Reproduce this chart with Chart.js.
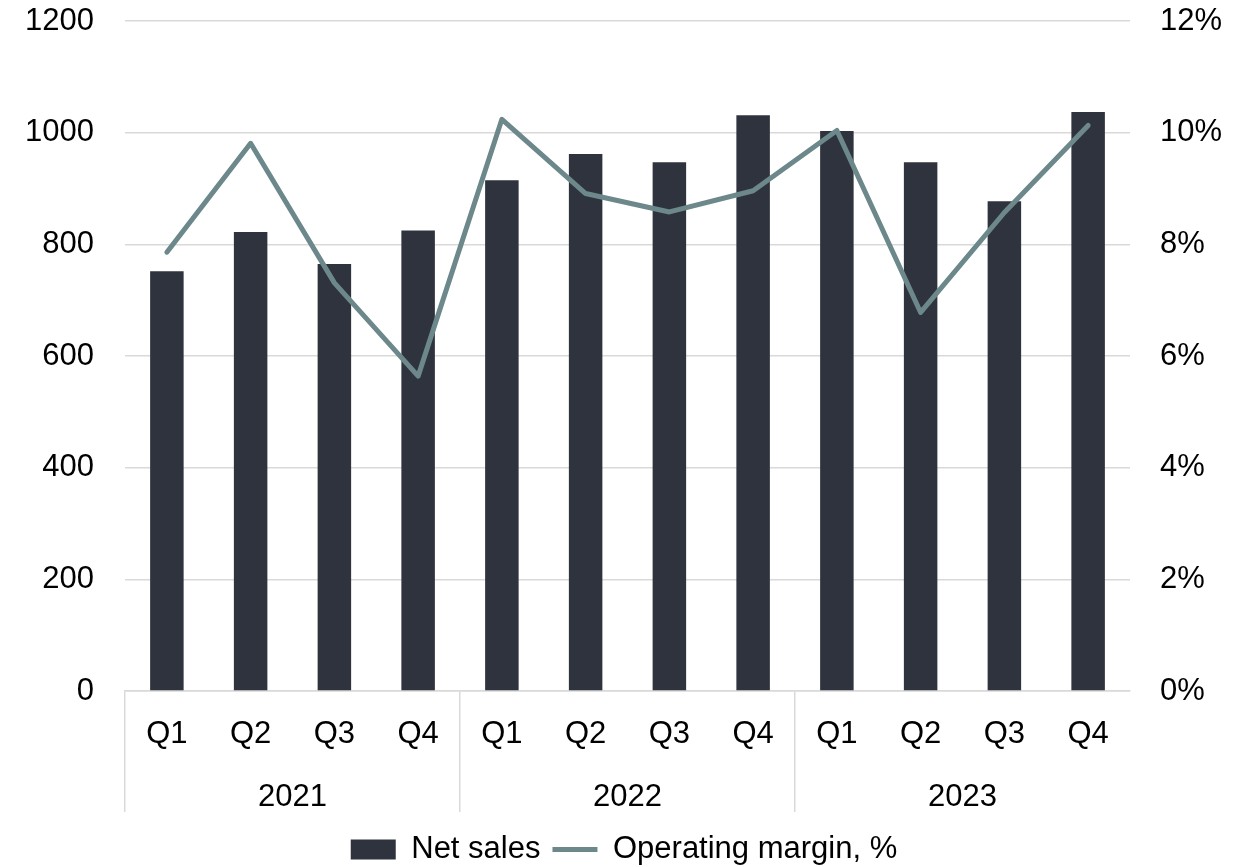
<!DOCTYPE html>
<html lang="en">
<head>
  <meta charset="UTF-8">
  <title>Net sales and operating margin</title>
  <script src="https://cdn.jsdelivr.net/npm/chart.js"></script>
  <style>
    html, body {
      margin: 0;
      padding: 0;
      background: #ffffff;
    }
    #wrap {
      width: 1248px;
      height: 867px;
    }
  </style>
</head>
<body>
  <div id="wrap"><canvas id="chart"></canvas></div>

<script>
const quarters = ['Q1', 'Q2', 'Q3', 'Q4', 'Q1', 'Q2', 'Q3', 'Q4', 'Q1', 'Q2', 'Q3', 'Q4'];
const years = ['2021', '2022', '2023'];
const netSales = [752, 822, 765, 825, 915, 962, 947, 1031, 1003, 947, 877, 1037];
const operatingMargin = [7.86, 9.81, 7.31, 5.64, 10.24, 8.91, 8.58, 8.96, 10.04, 6.78, 8.57, 10.13];
const salesTicks = [0, 200, 400, 600, 800, 1000, 1200];
const marginTicks = [0, 2, 4, 6, 8, 10, 12];

const barColor = '#2f333d';
const lineColor = '#6c888b';
const gridColor = '#d9d9d9';
const font = { family: '"Liberation Sans", Arial, sans-serif', size: 31, lineHeight: 1.0 };

Chart.defaults.color = '#000000';
Chart.defaults.font.family = font.family;
Chart.defaults.font.size = font.size;

// y axes add tick padding above the top label; drop it so the plot starts at 1200
function noVertPad(s) {
  s.paddingTop = 0;
  s.paddingBottom = 0;
}

const ctx = document.getElementById('chart').getContext('2d');
new Chart(ctx, {
  data: {
    labels: quarters,
    datasets: [
      {
        type: 'bar',
        label: 'Net sales',
        data: netSales,
        backgroundColor: barColor,
        yAxisID: 'y',
        xAxisID: 'x',
        categoryPercentage: 1,
        barPercentage: 0.4,
        pointStyle: 'rect',
        order: 2
      },
      {
        type: 'line',
        label: 'Operating margin, %',
        data: operatingMargin,
        borderColor: lineColor,
        backgroundColor: lineColor,
        borderWidth: 5,
        pointRadius: 0,
        tension: 0,
        borderCapStyle: 'round',
        borderJoinStyle: 'round',
        yAxisID: 'y1',
        xAxisID: 'x',
        pointStyle: 'line',
        order: 1
      }
    ]
  },
  options: {
    responsive: true,
    maintainAspectRatio: false,
    animation: false,
    layout: { padding: { top: 21, left: 0, right: 0, bottom: 0 } },
    plugins: {
      tooltip: { enabled: false },
      legend: {
        position: 'bottom',
        maxHeight: 45,
        labels: {
          usePointStyle: true,
          pointStyleWidth: 45,
          boxHeight: 20,
          padding: 12,
          font: font,
          sort: (a, b) => a.datasetIndex - b.datasetIndex
        }
      }
    },
    scales: {
      x: {
        type: 'category',
        position: 'bottom',
        offset: true,
        grid: {
          offset: true,
          drawOnChartArea: false,
          drawTicks: true,
          tickLength: 121,
          color: c => (c.index % 4 === 0 ? gridColor : 'rgba(0,0,0,0)'),
          lineWidth: 1.5
        },
        border: { display: true, color: gridColor, width: 1.5 },
        ticks: { padding: -93, font: font, maxRotation: 0, autoSkip: false },
        afterFit: s => { s.height = 71; }
      },
      x2: {
        type: 'category',
        position: 'bottom',
        labels: years,
        offset: true,
        grid: { display: false },
        border: { display: false },
        ticks: { padding: 12, font: font, maxRotation: 0 },
        afterFit: s => { s.height = 60; }
      },
      y: {
        type: 'linear',
        position: 'left',
        min: 0,
        max: 1200,
        afterBuildTicks: s => { s.ticks = salesTicks.map(v => ({ value: v })); },
        grid: { color: gridColor, lineWidth: 1.5, drawTicks: false },
        border: { display: false },
        ticks: { padding: 31, font: font, callback: v => String(v) },
        afterFit: s => { s.width = 125; noVertPad(s); }
      },
      y1: {
        type: 'linear',
        position: 'right',
        min: 0,
        max: 12,
        afterBuildTicks: s => { s.ticks = marginTicks.map(v => ({ value: v })); },
        grid: { drawOnChartArea: false, drawTicks: false },
        border: { display: false },
        ticks: { padding: 30, font: font, callback: v => v + '%' },
        afterFit: s => { s.width = 118; noVertPad(s); }
      }
    }
  }
});
</script>
</body>
</html>
